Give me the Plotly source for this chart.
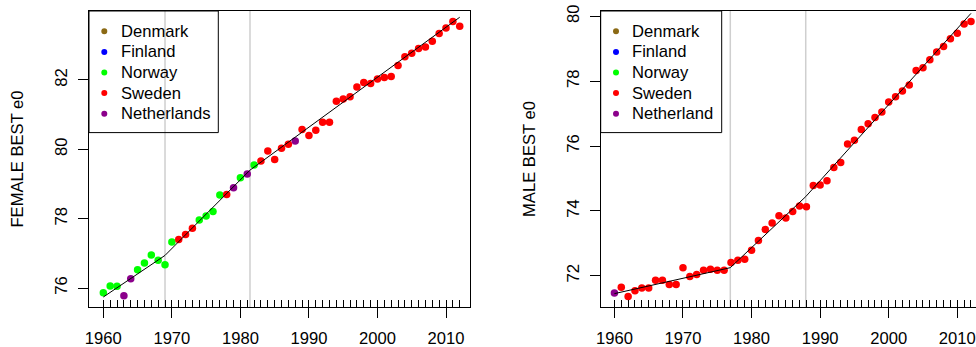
import plotly.graph_objects as go

# ---------------- data ----------------
years = list(range(1960, 2013))

female_e0 = [75.86, 76.06, 76.05, 75.78, 76.27, 76.53, 76.72, 76.95, 76.80, 76.67,
             77.33, 77.40, 77.54, 77.72, 77.96, 78.08, 78.21, 78.68, 78.70, 78.89,
             79.18, 79.29, 79.55, 79.66, 79.95, 79.71, 80.03, 80.15, 80.24, 80.57,
             80.40, 80.55, 80.78, 80.78, 81.39, 81.45, 81.52, 81.80, 81.93, 81.90,
             82.03, 82.07, 82.10, 82.42, 82.67, 82.77, 82.91, 82.95, 83.12, 83.34,
             83.50, 83.69, 83.55]
female_country = (["Norway"] * 3 + ["Netherlands"] * 2 + ["Norway"] * 6 +
                  ["Sweden"] * 3 + ["Norway"] * 4 + ["Sweden", "Netherlands", "Norway",
                  "Netherlands", "Norway"] + ["Sweden"] * 5 + ["Netherlands"] +
                  ["Sweden"] * 24)

male_e0 = [71.47, 71.65, 71.36, 71.54, 71.62, 71.62, 71.86, 71.86, 71.73, 71.73,
           72.25, 71.98, 72.04, 72.17, 72.20, 72.17, 72.17, 72.41, 72.48, 72.51,
           72.79, 73.09, 73.43, 73.63, 73.85, 73.78, 73.98, 74.15, 74.13, 74.78,
           74.80, 74.93, 75.34, 75.49, 76.06, 76.18, 76.51, 76.69, 76.88, 77.05,
           77.36, 77.52, 77.70, 77.88, 78.33, 78.41, 78.66, 78.90, 79.07, 79.31,
           79.48, 79.76, 79.84]
male_country = ["Netherlands"] + ["Sweden"] * 52

# segmented fits (knots) and breakpoints
female_fit_years = [1960, 1969.0, 1981.4, 2012]
female_fit_e0 = [75.74, 76.94, 79.40, 83.81]
female_breaks = [1969.0, 1981.4]

male_fit_years = [1960, 1976.9, 1987.9, 2012]
male_fit_e0 = [71.45, 72.25, 74.44, 80.09]
male_breaks = [1976.9, 1987.9]

countries = ["Denmark", "Finland", "Norway", "Sweden", "Netherlands"]
country_colors = ["#8B6914", "#0000FF", "#00FF00", "#FF0000", "#8B008B"]
female_legend_labels = ["Denmark", "Finland", "Norway", "Sweden", "Netherlands"]
male_legend_labels = ["Denmark", "Finland", "Norway", "Sweden", "Netherland"]

x_major_ticks = [1960, 1970, 1980, 1990, 2000, 2010]
female_y_ticks = [76, 78, 80, 82]
male_y_ticks = [72, 74, 76, 78, 80]

# ---------------- figure ----------------
FONT = "Liberation Sans, Arial, Helvetica, sans-serif"
FS = 16.6
W, H = 976, 347

fig = go.Figure()

panels = [
    dict(xa="x", ya="y", xo="x3", vals=female_e0, ctry=female_country,
         fx=female_fit_years, fy=female_fit_e0, breaks=female_breaks,
         labels=female_legend_labels, legw=129.3),
    dict(xa="x2", ya="y2", xo="x4", vals=male_e0, ctry=male_country,
         fx=male_fit_years, fy=male_fit_e0, breaks=male_breaks,
         labels=male_legend_labels, legw=121.0),
]

shapes = []
annotations = []
for p in panels:
    # points by country
    for c, col in zip(countries, country_colors):
        xs = [yr for yr, cc in zip(years, p["ctry"]) if cc == c]
        ys = [v for v, cc in zip(p["vals"], p["ctry"]) if cc == c]
        if not xs:
            continue
        fig.add_trace(go.Scatter(x=xs, y=ys, mode="markers", name=c,
                                 marker=dict(color=col, size=7.5, line=dict(width=0)),
                                 xaxis=p["xa"], yaxis=p["ya"], showlegend=False))
    # fitted segmented line
    fig.add_trace(go.Scatter(x=p["fx"], y=p["fy"], mode="lines",
                             line=dict(color="black", width=1),
                             xaxis=p["xa"], yaxis=p["ya"], showlegend=False,
                             hoverinfo="skip"))
    # dummy trace for the inner minor-tick overlay axis
    fig.add_trace(go.Scatter(x=[None], y=[None], mode="markers", xaxis=p["xo"],
                             yaxis=p["ya"], showlegend=False, hoverinfo="skip"))
    # breakpoints
    for b in p["breaks"]:
        shapes.append(dict(type="line", xref=p["xa"], yref=p["ya"] + " domain",
                           x0=b, x1=b, y0=0, y1=1, layer="below",
                           line=dict(color="#cfcfcf", width=1.5)))
    # legend box
    shapes.append(dict(type="rect", xref=p["xa"] + " domain", yref=p["ya"] + " domain",
                       xsizemode="pixel", ysizemode="pixel", xanchor=0, yanchor=1,
                       x0=0, x1=p["legw"], y0=0, y1=-121.6,
                       line=dict(color="black", width=1), fillcolor="rgba(0,0,0,0)"))
    for i, (lab, col) in enumerate(zip(p["labels"], country_colors)):
        yc = -(20.3 + i * 20.6)
        shapes.append(dict(type="circle", xref=p["xa"] + " domain",
                           yref=p["ya"] + " domain", xsizemode="pixel",
                           ysizemode="pixel", xanchor=0, yanchor=1,
                           x0=15.3 - 3, x1=15.3 + 3, y0=yc - 3, y1=yc + 3,
                           line=dict(width=0), fillcolor=col))
        annotations.append(dict(text=lab, xref=p["xa"] + " domain",
                                yref=p["ya"] + " domain", x=0, y=1, xanchor="left",
                                yanchor="middle", xshift=29.5, yshift=yc,
                                showarrow=False,
                                font=dict(family=FONT, size=FS, color="black")))

tickfont = dict(family=FONT, size=FS, color="black")
common_x = dict(tickvals=x_major_ticks, ticktext=[str(t) for t in x_major_ticks],
                ticks="outside", ticklen=10, tickwidth=1, tickcolor="black",
                showline=True, linecolor="black", linewidth=1, mirror=True,
                showgrid=False, zeroline=False, tickfont=tickfont,
                ticklabelstandoff=6, automargin=False)
minor_x = dict(tickvals=years, ticks="inside", ticklen=7, tickwidth=1,
               tickcolor="black", showticklabels=False, showline=False,
               showgrid=False, zeroline=False, automargin=False)
common_y = dict(ticks="outside", ticklen=10, tickwidth=1, tickcolor="black",
                showline=True, linecolor="black", linewidth=1,
                showgrid=False, zeroline=False, tickfont=tickfont, tickangle=-90,
                ticklabelstandoff=4, automargin=False)


def ytitle(text):
    return dict(text=text, font=dict(family=FONT, size=FS, color="black"), standoff=24)


x1_dom = [89 / W, 470 / W]
x2_dom = [600.7 / W, 1.0]
x1_rng = [1957.91, 2013.5]
x2_rng = [1958.0, 2012.73]

fig.update_layout(
    width=W, height=H,
    margin=dict(l=0, r=0, t=11, b=40, pad=0),
    paper_bgcolor="white", plot_bgcolor="white",
    font=dict(family=FONT, size=FS, color="black"),
    showlegend=False,
    xaxis=dict(domain=x1_dom, range=x1_rng, anchor="y", **common_x),
    xaxis3=dict(overlaying="x", anchor="y", range=x1_rng, **minor_x),
    yaxis=dict(domain=[0, 1], range=[75.452, 83.99], anchor="x",
               tickvals=female_y_ticks, mirror=True,
               title=ytitle("FEMALE BEST e0"), **common_y),
    xaxis2=dict(domain=x2_dom, range=x2_rng, anchor="y2", **common_x),
    xaxis4=dict(overlaying="x2", anchor="y2", range=x2_rng, **minor_x),
    yaxis2=dict(domain=[0, 1], range=[71.038, 80.163], anchor="x2",
                tickvals=male_y_ticks, mirror=False,
                title=ytitle("MALE BEST e0"), **common_y),
    shapes=shapes,
    annotations=annotations,
)

fig.write_html("out.html")
